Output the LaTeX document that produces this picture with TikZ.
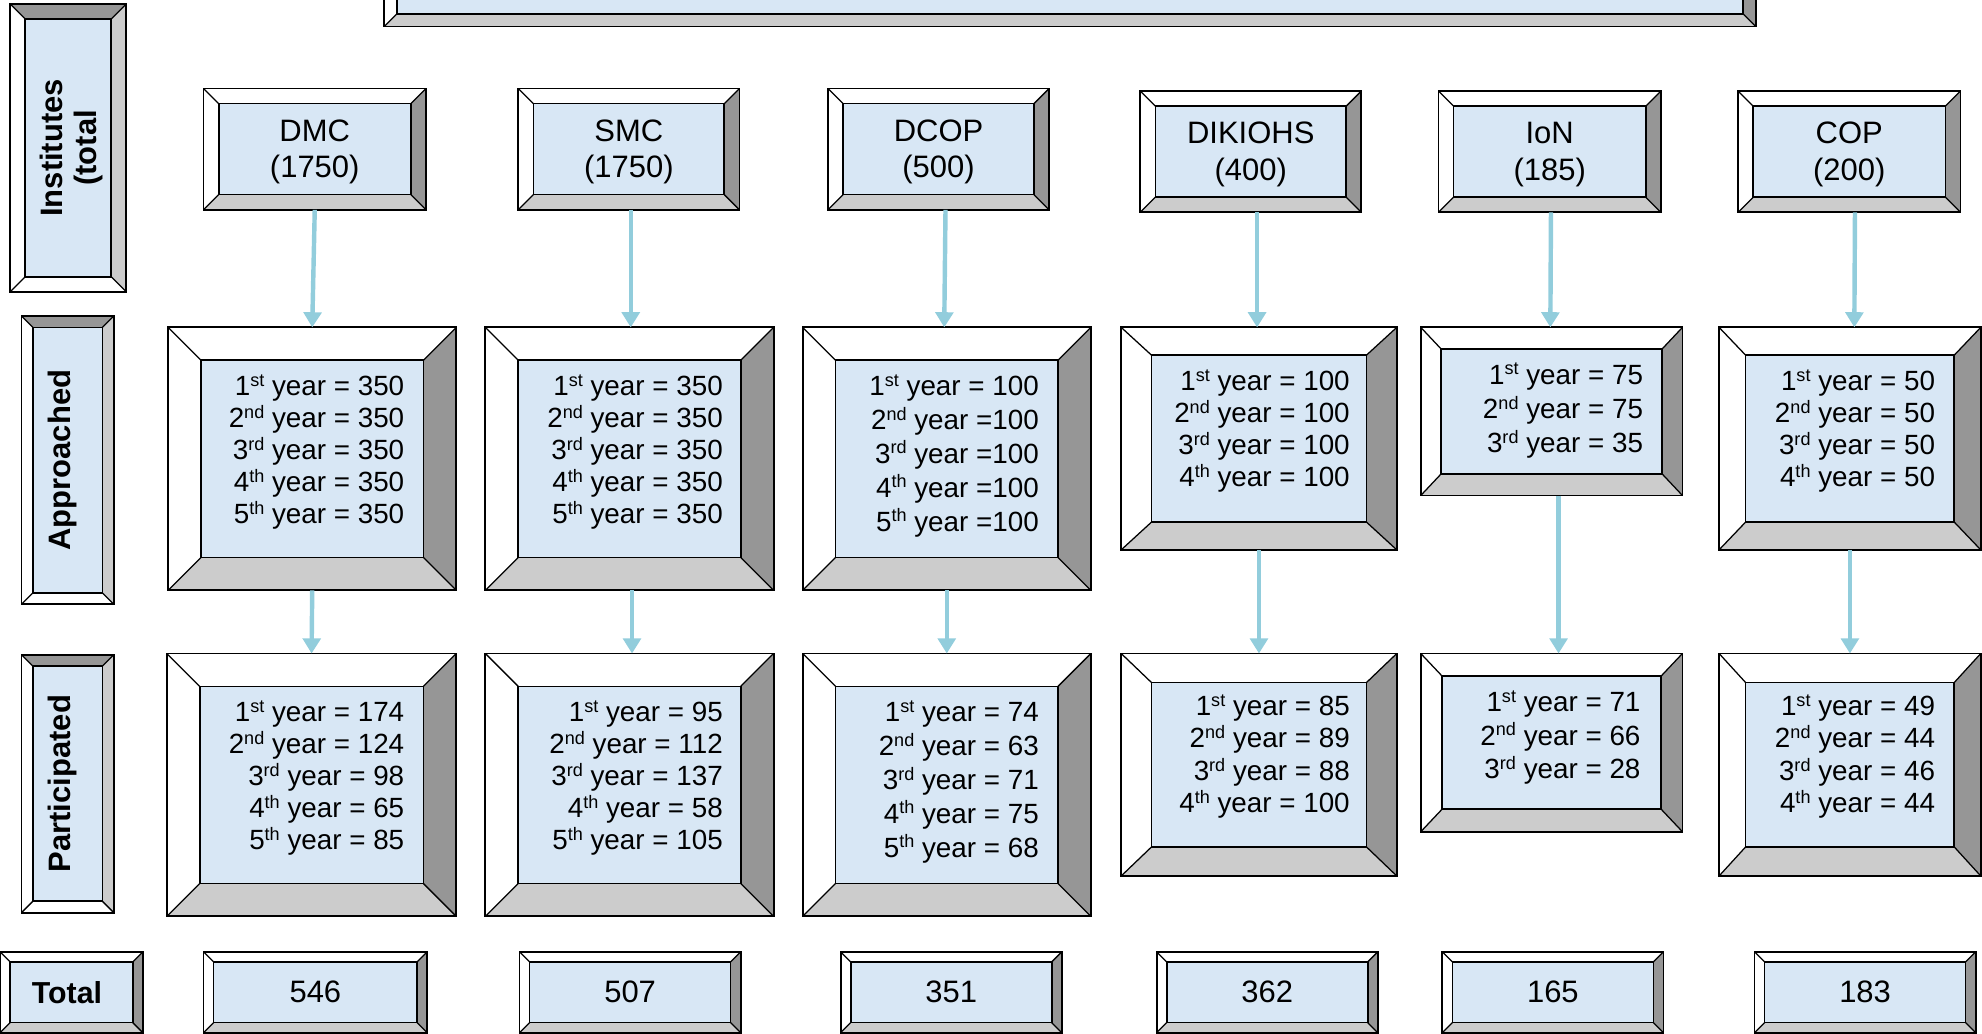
\documentclass[tikz,border=0pt]{standalone}
\usepackage{fontspec}
\setmainfont{Liberation Sans}
\usetikzlibrary{arrows.meta}
\definecolor{face}{RGB}{216,231,245}
\definecolor{dgrey}{RGB}{150,150,150}
\definecolor{lgrey}{RGB}{204,204,204}
\definecolor{arrowc}{RGB}{146,205,220}
\newcommand{\yr}[2]{#1\raisebox{0.34em}{\fontsize{14.3}{14.3}\selectfont #2}}
\newcommand{\bodyf}[1]{\fontsize{22}{#1}\selectfont}
\newcommand{\tpstrut}{\rule{0pt}{21.6pt}}
\newcommand{\bevstd}{\colorlet{bT}{white}\colorlet{bL}{white}\colorlet{bR}{dgrey}\colorlet{bB}{lgrey}}
\newcommand{\bevrot}{\colorlet{bT}{dgrey}\colorlet{bL}{white}\colorlet{bR}{lgrey}\colorlet{bB}{white}}
% name, x1, y1, x2, y2, bx, by, node options, text
\newcommand{\bevbox}[9]{%
  \fill[bT] (#2,#3) -- (#4,#3) -- ({#4-#6},{#3+#7}) -- ({#2+#6},{#3+#7}) -- cycle;
  \fill[bL] (#2,#3) -- ({#2+#6},{#3+#7}) -- ({#2+#6},{#5-#7}) -- (#2,#5) -- cycle;
  \fill[bR] (#4,#3) -- (#4,#5) -- ({#4-#6},{#5-#7}) -- ({#4-#6},{#3+#7}) -- cycle;
  \fill[bB] (#2,#5) -- (#4,#5) -- ({#4-#6},{#5-#7}) -- ({#2+#6},{#5-#7}) -- cycle;
  \draw[bevline] (#2,#3) -- ({#2+#6},{#3+#7}) (#4,#3) -- ({#4-#6},{#3+#7})
                 (#2,#5) -- ({#2+#6},{#5-#7}) (#4,#5) -- ({#4-#6},{#5-#7});
  \draw[facestyle] ({#2+#6},{#3+#7}) rectangle ({#4-#6},{#5-#7});
  \node[boxnode, minimum width={#4-#2}, minimum height={#5-#3}, #8] (#1) at ({(#2+#4)/2},{(#3+#5)/2}) {#9};
}
\begin{document}
\begin{tikzpicture}[x=1pt,y=-1pt,
  boxnode/.style={draw=black, line width=1.5pt, inner sep=0pt, outer sep=0pt, align=center},
  bevline/.style={draw=black, line width=1pt},
  facestyle/.style={fill=face, draw=black, line width=1.3pt},
  topf/.style={font=\fontsize{24.5}{29}\selectfont},
  totf/.style={font=\fontsize{24.5}{29}\selectfont},
  lbltxt/.style={font=\bfseries\fontsize{24.5}{26.5}\selectfont, align=center, inner sep=0pt},
  bodytxt/.style={anchor=east, align=right, inner sep=0pt},
  arr/.style={draw=arrowc, line width=3.5pt, -{Triangle[width=14pt,length=12pt]}}
]
\useasboundingbox (0,0) rectangle (1568,818);
\clip (0,0) rectangle (1568,818);

% title box (cut off at top)
\bevstd
\bevbox{titleB}{304}{-80}{1389}{21}{10}{10}{}{}

% row labels
\bevrot
\bevbox{instL}{8}{3}{100}{231}{12}{12}{}{}
\bevbox{apprL}{17}{250}{90}{478}{9}{9}{}{}
\bevbox{partL}{17}{518}{90}{722}{9}{9}{}{}
\node[lbltxt, rotate=90] (instLt) at (56.5,117) {Institutes\\(total};
\node[lbltxt, rotate=90] (apprLt) at (49.5,364) {Approached};
\node[lbltxt, rotate=90] (partLt) at (49.5,620) {Participated};

\bevstd
% institutes row
\bevbox{dmcT}{161}{70}{337}{166}{12}{12}{topf}{\tpstrut DMC\\(1750)}
\bevbox{smcT}{410}{70}{585}{166}{12}{12}{topf}{\tpstrut SMC\\(1750)}
\bevbox{dcopT}{655}{70}{830}{166}{12}{12}{topf}{\tpstrut DCOP\\(500)}
\bevbox{dikT}{902}{72}{1077}{168}{12}{12}{topf}{\tpstrut DIKIOHS\\(400)}
\bevbox{ionT}{1138}{72}{1314}{168}{12}{12}{topf}{\tpstrut IoN\\(185)}
\bevbox{copT}{1375}{72}{1551}{168}{12}{12}{topf}{\tpstrut COP\\(200)}

% approached row
\bevbox{dmcA}{133}{259}{361}{467}{26}{26}{}{}
\bevbox{smcA}{384}{259}{612}{467}{26}{26}{}{}
\bevbox{dcopA}{635}{259}{863}{467}{26}{26}{}{}
\bevbox{dikA}{887}{259}{1105}{435}{24}{22}{}{}
\bevbox{ionA}{1124}{259}{1331}{392}{16}{17}{}{}
\bevbox{copA}{1360}{259}{1567}{435}{21}{22}{}{}

\node[bodytxt, font=\bodyf{25.3}] (dmcAt) at (320,357.5)
  {\yr{1}{st} year = 350\\\yr{2}{nd} year = 350\\\yr{3}{rd} year = 350\\\yr{4}{th} year = 350\\\yr{5}{th} year = 350};
\node[bodytxt, font=\bodyf{25.3}] (smcAt) at (572,357.5)
  {\yr{1}{st} year = 350\\\yr{2}{nd} year = 350\\\yr{3}{rd} year = 350\\\yr{4}{th} year = 350\\\yr{5}{th} year = 350};
\node[bodytxt, font=\bodyf{26.8}] (dcopAt) at (822,360.5)
  {\yr{1}{st} year = 100\\\yr{2}{nd} year =100\\\yr{3}{rd} year =100\\\yr{4}{th} year =100\\\yr{5}{th} year =100};
\node[bodytxt, font=\bodyf{25.3}] (dikAt) at (1068,341)
  {\yr{1}{st} year = 100\\\yr{2}{nd} year = 100\\\yr{3}{rd} year = 100\\\yr{4}{th} year = 100};
\node[bodytxt, font=\bodyf{27}] (ionAt) at (1300,325)
  {\yr{1}{st} year = 75\\\yr{2}{nd} year = 75\\\yr{3}{rd} year = 35};
\node[bodytxt, font=\bodyf{25.3}] (copAt) at (1531,341)
  {\yr{1}{st} year = 50\\\yr{2}{nd} year = 50\\\yr{3}{rd} year = 50\\\yr{4}{th} year = 50};

% participated row
\bevbox{dmcP}{132}{517}{361}{725}{26}{26}{}{}
\bevbox{smcP}{384}{517}{612}{725}{26}{26}{}{}
\bevbox{dcopP}{635}{517}{863}{725}{26}{26}{}{}
\bevbox{dikP}{887}{517}{1105}{693}{24}{23}{}{}
\bevbox{ionP}{1124}{517}{1331}{658}{17}{18}{}{}
\bevbox{copP}{1360}{517}{1567}{693}{21}{23}{}{}

\node[bodytxt, font=\bodyf{25.3}] (dmcPt) at (320,615.5)
  {\yr{1}{st} year = 174\\\yr{2}{nd} year = 124\\\yr{3}{rd} year = 98\\\yr{4}{th} year = 65\\\yr{5}{th} year = 85};
\node[bodytxt, font=\bodyf{25.3}] (smcPt) at (572,615.5)
  {\yr{1}{st} year = 95\\\yr{2}{nd} year = 112\\\yr{3}{rd} year = 137\\\yr{4}{th} year = 58\\\yr{5}{th} year = 105};
\node[bodytxt, font=\bodyf{26.8}] (dcopPt) at (822,618.5)
  {\yr{1}{st} year = 74\\\yr{2}{nd} year = 63\\\yr{3}{rd} year = 71\\\yr{4}{th} year = 75\\\yr{5}{th} year = 68};
\node[bodytxt, font=\bodyf{25.7}] (dikPt) at (1068,598.5)
  {\yr{1}{st} year = 85\\\yr{2}{nd} year = 89\\\yr{3}{rd} year = 88\\\yr{4}{th} year = 100};
\node[bodytxt, font=\bodyf{26.5}] (ionPt) at (1298,583.5)
  {\yr{1}{st} year = 71\\\yr{2}{nd} year = 66\\\yr{3}{rd} year = 28};
\node[bodytxt, font=\bodyf{25.7}] (copPt) at (1531,598.5)
  {\yr{1}{st} year = 49\\\yr{2}{nd} year = 44\\\yr{3}{rd} year = 46\\\yr{4}{th} year = 44};

% totals row
\bevbox{totL}{0}{753}{113}{817}{8}{8}{font=\bfseries\fontsize{24}{28}\selectfont}{Total\hspace*{7pt}}
\bevbox{dmcS}{161}{753}{338}{817}{8}{8}{totf}{546}
\bevbox{smcS}{411}{753}{586}{817}{8}{8}{totf}{507}
\bevbox{dcopS}{665}{753}{840}{817}{8}{8}{totf}{351}
\bevbox{dikS}{915}{753}{1090}{817}{8}{8}{totf}{362}
\bevbox{ionS}{1141}{753}{1316}{817}{8}{8}{totf}{165}
\bevbox{copS}{1388}{753}{1563}{817}{8}{8}{totf}{183}

% connectors
\draw[arr] (dmcT.south) -- (dmcA.north);
\draw[arr] ([xshift=1.5pt]smcT.south) -- ([xshift=1pt]smcA.north);
\draw[arr] ([xshift=5.5pt]dcopT.south) -- ([xshift=-2pt]dcopA.north);
\draw[arr] ([xshift=5pt]dikT.south) -- ([xshift=-1.5pt]dikA.north);
\draw[arr] ([xshift=1pt]ionT.south) -- ([xshift=-1pt]ionA.north);
\draw[arr] ([xshift=4.5pt]copT.south) -- ([xshift=3.5pt]copA.north);
\draw[arr] (dmcA.south) -- (dmcP.north);
\draw[arr] ([xshift=2pt]smcA.south) -- ([xshift=2pt]smcP.north);
\draw[arr] (dcopA.south) -- (dcopP.north);
\draw[arr] (dikA.south) -- (dikP.north);
\draw[arr] ([xshift=5.5pt]ionA.south) -- ([xshift=5.5pt]ionP.north);
\draw[arr] (copA.south) -- (copP.north);
\end{tikzpicture}
\end{document}
